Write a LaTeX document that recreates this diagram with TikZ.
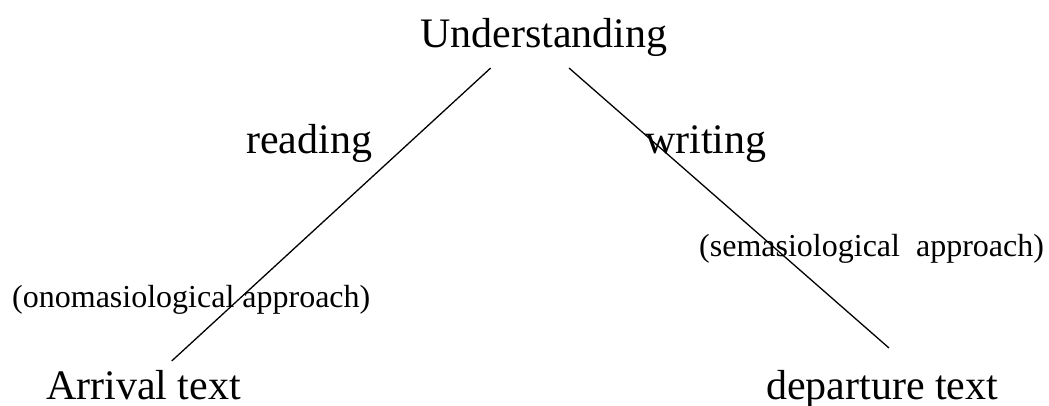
\documentclass[tikz,border=0pt]{standalone}
\usepackage{fontspec}
\setmainfont{Liberation Serif}
\begin{document}
\begin{tikzpicture}[x=1pt,y=-1pt,
  big/.style={inner sep=0pt,anchor=base west,font=\fontsize{42}{48}\selectfont},
  small/.style={inner sep=0pt,anchor=base west,font=\fontsize{32}{38}\selectfont},
  link/.style={line width=1.3pt}]
\useasboundingbox (0,0) rectangle (1049,405);
\node[big] (U) at (420,47) {Understanding};
\node[big] (R) at (246,153) {reading};
\node[big] (W) at (645,153) {writing};
\node[small] (S) at (699,256) {(semasiological\ \ approach)};
\node[small] (O) at (12,307) {(onomasiological approach)};
\node[big] (A) at (46,399) {Arrival text};
\node[big] (D) at (766,399) {departure text};
\coordinate (ul) at (490.7,68);
\coordinate (ur) at (569,68);
\coordinate (al) at (171.7,361);
\coordinate (dr) at (889,348);
\draw[link] (ul) -- (al);
\draw[link] (ur) -- (dr);
\end{tikzpicture}
\end{document}
